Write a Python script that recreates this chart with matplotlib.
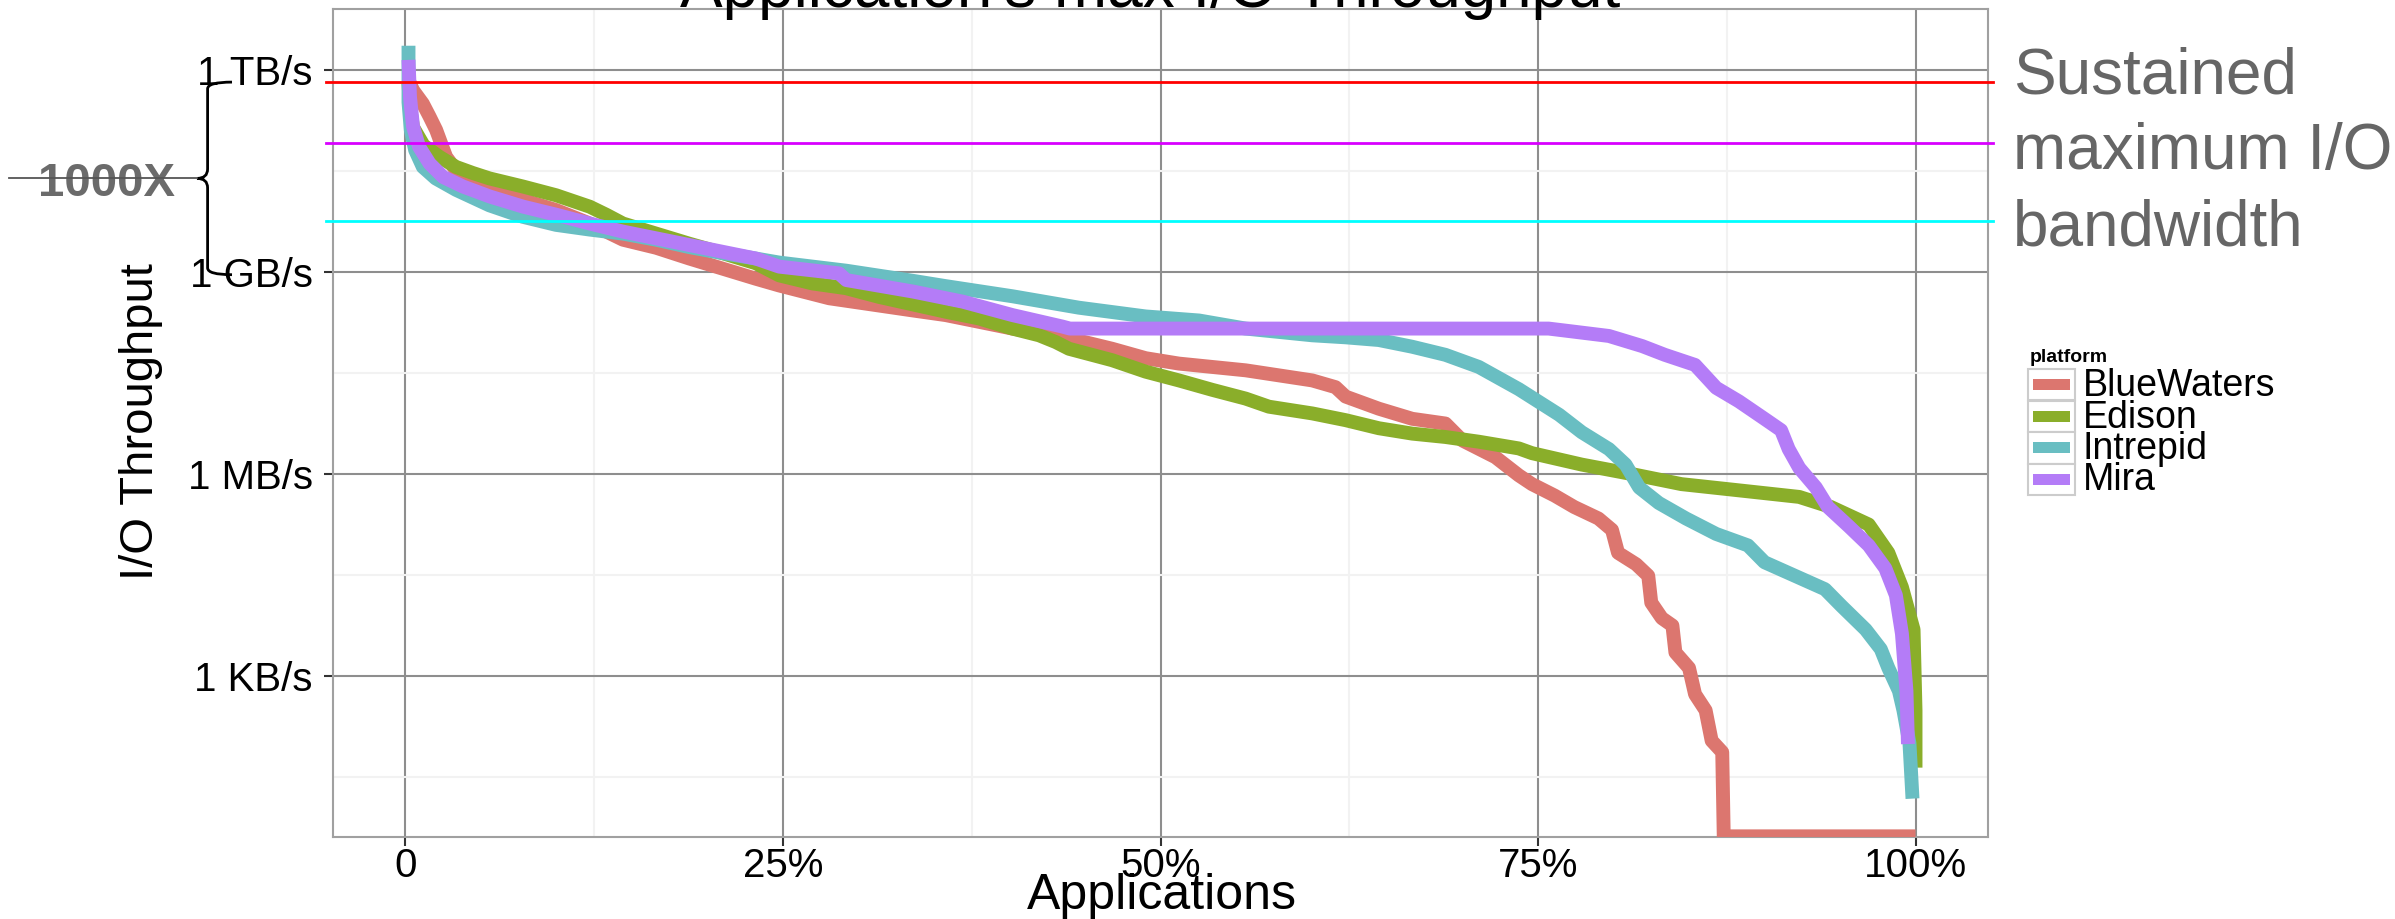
import numpy as np
import matplotlib
matplotlib.use("Agg")
import matplotlib.pyplot as plt
from matplotlib import transforms
from matplotlib.path import Path
from matplotlib.patches import PathPatch, Rectangle
from matplotlib.lines import Line2D
from matplotlib.ticker import NullFormatter

plt.rcParams["font.family"] = ["Liberation Sans", "DejaVu Sans"]

# ---- data: fraction of applications vs log10(max I/O throughput in B/s) ----
platforms = ["BlueWaters", "Edison", "Intrepid", "Mira"]
colors = ["#DC766F", "#8AAE2A", "#69BEC2", "#B47CF7"]

bluewaters_x = [0.002, 0.005, 0.0115, 0.0159, 0.0203, 0.0236, 0.0269, 0.0335, 0.0446, 0.0777,
                0.0997, 0.122, 0.144, 0.166, 0.188, 0.210, 0.232, 0.2475, 0.2806, 0.3357,
                0.3578, 0.4019, 0.435, 0.468, 0.4902, 0.5122, 0.5564, 0.6005, 0.6159, 0.6226,
                0.6446, 0.6667, 0.6887, 0.6998, 0.7218, 0.7373, 0.746, 0.761, 0.774, 0.790,
                0.799, 0.803, 0.815, 0.823, 0.825, 0.832, 0.839, 0.841, 0.850, 0.854,
                0.861, 0.865, 0.872, 0.873, 1.0]
bluewaters_log = [11.85, 11.70, 11.50, 11.31, 11.11, 10.91, 10.71, 10.51, 10.37, 10.07,
                  9.92, 9.72, 9.48, 9.36, 9.20, 9.05, 8.90, 8.80, 8.61, 8.43,
                  8.36, 8.16, 8.04, 7.86, 7.72, 7.64, 7.54, 7.39, 7.29, 7.15,
                  6.97, 6.82, 6.75, 6.50, 6.25, 5.98, 5.85, 5.68, 5.51, 5.34,
                  5.17, 4.83, 4.66, 4.49, 4.09, 3.86, 3.75, 3.35, 3.12, 2.73,
                  2.49, 2.04, 1.87, 0.62, 0.62]

edison_x = [0.002, 0.003, 0.005, 0.012, 0.0225, 0.0335, 0.0446, 0.0556, 0.0777, 0.0997,
            0.122, 0.133, 0.144, 0.166, 0.188, 0.210, 0.232, 0.2475, 0.2696, 0.2917,
            0.3137, 0.3578, 0.3799, 0.4019, 0.4196, 0.4306, 0.4394, 0.468, 0.4902, 0.5122,
            0.5343, 0.5564, 0.5718, 0.6005, 0.6226, 0.6446, 0.6667, 0.6887, 0.7108, 0.7373,
            0.746, 0.779, 0.812, 0.845, 0.878, 0.923, 0.944, 0.969, 0.982, 0.991,
            0.9987, 1.0, 1.0]
edison_log = [11.80, 11.45, 11.15, 10.88, 10.71, 10.56, 10.47, 10.39, 10.27, 10.14,
              9.97, 9.85, 9.72, 9.57, 9.42, 9.28, 9.13, 8.95, 8.83, 8.76,
              8.63, 8.41, 8.31, 8.16, 8.06, 7.96, 7.86, 7.69, 7.52, 7.39,
              7.25, 7.12, 7.00, 6.90, 6.80, 6.68, 6.60, 6.55, 6.48, 6.38,
              6.31, 6.14, 6.00, 5.85, 5.77, 5.66, 5.51, 5.25, 4.83, 4.32,
              3.69, 2.49, 1.64]

intrepid_x = [0.002, 0.002, 0.0035, 0.0064, 0.0115, 0.020, 0.0335, 0.0556, 0.0777, 0.0997,
              0.122, 0.144, 0.166, 0.188, 0.210, 0.232, 0.2475, 0.2917, 0.3357, 0.3578,
              0.4019, 0.446, 0.4902, 0.5255, 0.5564, 0.6005, 0.6226, 0.6446, 0.6667, 0.6887,
              0.7108, 0.7373, 0.764, 0.779, 0.797, 0.808, 0.817, 0.830, 0.848, 0.868,
              0.889, 0.900, 0.923, 0.940, 0.951, 0.967, 0.977, 0.982, 0.989, 0.992,
              0.996, 0.998]
intrepid_log = [12.36, 11.52, 11.11, 10.81, 10.56, 10.39, 10.22, 9.99, 9.82, 9.70,
                9.63, 9.57, 9.48, 9.37, 9.28, 9.20, 9.14, 9.02, 8.87, 8.79,
                8.64, 8.47, 8.34, 8.28, 8.16, 8.06, 8.03, 7.99, 7.89, 7.77,
                7.59, 7.26, 6.88, 6.62, 6.37, 6.14, 5.80, 5.57, 5.34, 5.11,
                4.94, 4.69, 4.46, 4.29, 4.04, 3.69, 3.40, 3.12, 2.78, 2.49,
                2.00, 1.18]

mira_x = [0.002, 0.003, 0.005, 0.009, 0.016, 0.025, 0.038, 0.056, 0.078, 0.100,
          0.122, 0.144, 0.166, 0.188, 0.210, 0.232, 0.2475, 0.287, 0.292, 0.336,
          0.369, 0.402, 0.435, 0.440, 0.757, 0.768, 0.797, 0.819, 0.834, 0.854,
          0.861, 0.868, 0.883, 0.900, 0.911, 0.916, 0.923, 0.934, 0.942, 0.956,
          0.969, 0.980, 0.987, 0.991, 0.994, 0.995]
mira_log = [12.15, 11.60, 11.16, 10.86, 10.61, 10.41, 10.27, 10.12, 9.97, 9.85,
            9.72, 9.60, 9.50, 9.40, 9.30, 9.20, 9.08, 8.98, 8.88, 8.71,
            8.56, 8.36, 8.19, 8.16, 8.16, 8.13, 8.05, 7.90, 7.77, 7.62,
            7.45, 7.28, 7.08, 6.82, 6.65, 6.37, 6.09, 5.80, 5.51, 5.22,
            4.94, 4.60, 4.20, 3.63, 2.78, 1.99]

series_x = [bluewaters_x, edison_x, intrepid_x, mira_x]
series_log = [bluewaters_log, edison_log, intrepid_log, mira_log]

# sustained maximum I/O bandwidth of the machines (log10 B/s)
sustained_log = [11.82, 10.92, 9.76]
sustained_colors = ["#FF0000", "#D800FF", "#00FFFF"]

x_ticks = [0, 0.25, 0.5, 0.75, 1.0]
x_ticklabels = ["0", "25%", "50%", "75%", "100%"]
y_ticks_log = [3, 6, 9, 12]
y_ticklabels = ["1 KB/s", "1 MB/s", "1 GB/s", "1 TB/s"]

# ---- figure ----
W, H = 2395, 919
fig = plt.figure(figsize=(W / 100, H / 100), dpi=100)
ax = fig.add_axes([333 / W, 1 - 837 / H, (1988 - 333) / W, (837 - 8.7) / H])


def fx(px):
    return px / W


def fy(py):
    return 1 - py / H


ax.set_yscale("log")
ax.set_xlim(-0.048, 1.048)
ax.set_ylim(10 ** 0.61, 10 ** 12.91)

ax.set_xticks(x_ticks)
ax.set_xticklabels(x_ticklabels)
ax.set_xticks([0.125, 0.375, 0.625, 0.875], minor=True)
ax.set_yticks([10.0 ** v for v in y_ticks_log])
ax.set_yticklabels(y_ticklabels)
ax.set_yticks([10 ** 1.5, 10 ** 4.5, 10 ** 7.5, 10 ** 10.5], minor=True)
ax.yaxis.set_minor_formatter(NullFormatter())

ax.grid(which="major", color="#8E8E8E", lw=1.5)
ax.grid(which="minor", color="#F2F2F2", lw=1.5)
ax.set_axisbelow(True)
for sp in ax.spines.values():
    sp.set_color("#A0A0A0")
    sp.set_linewidth(1.5)

ax.tick_params(which="major", length=6.5, width=1.5, color="#333333", labelsize=29)
ax.tick_params(which="minor", length=0)
ax.tick_params(axis="y", pad=8)
ax.tick_params(axis="x", pad=1)

for xs, logs, c in zip(series_x, series_log, colors):
    ax.plot(xs, 10 ** np.array(logs), color=c, lw=10, solid_capstyle="butt", zorder=3)

for v, c in zip(sustained_log, sustained_colors):
    ax.axhline(10 ** v, xmin=-0.004, xmax=1.003, color=c, lw=2, clip_on=False, zorder=5)

# titles
fig.text(fx(1150), fy(7), "Application's max I/O Throughput", ha="center", va="baseline",
         fontsize=46)
fig.text(fx(1162), fy(909), "Applications", ha="center", va="baseline", fontsize=36)
fig.text(fx(153), fy(422), "I/O Throughput", rotation=90, rotation_mode="anchor",
         ha="center", va="baseline", fontsize=34)

# right-hand annotation
for i, line in enumerate(["Sustained", "maximum I/O", "bandwidth"]):
    fig.text(fx(2013), fy(94 + i * 75.5), line, ha="left", va="baseline",
             fontsize=46, color="#666666")

# 1000X brace
brace_top = sustained_log[0]
brace_bot = 8.96
brace_mid = (brace_top + brace_bot) / 2
xs_px = 207.6
verts = [(fx(232), 10 ** brace_top),
         (fx(xs_px), 10 ** brace_top), (fx(xs_px), 10 ** (brace_top - 0.1)),
         (fx(xs_px), 10 ** (brace_mid + 0.14)),
         (fx(xs_px), 10 ** brace_mid), (fx(197), 10 ** brace_mid),
         (fx(xs_px), 10 ** brace_mid), (fx(xs_px), 10 ** (brace_mid - 0.14)),
         (fx(xs_px), 10 ** (brace_bot + 0.1)),
         (fx(xs_px), 10 ** brace_bot), (fx(232), 10 ** brace_bot)]
codes = [Path.MOVETO, Path.CURVE3, Path.CURVE3, Path.LINETO, Path.CURVE3, Path.CURVE3,
         Path.CURVE3, Path.CURVE3, Path.LINETO, Path.CURVE3, Path.CURVE3]
trans = transforms.blended_transform_factory(fig.transFigure, ax.transData)
fig.add_artist(PathPatch(Path(verts, codes), transform=trans, fill=False,
                         edgecolor="black", lw=2, clip_on=False))

fig.text(fx(107), fy(196), "1000X", ha="center", va="baseline", fontsize=34,
         weight="bold", color="#6B6B6B")
mid_y = trans.transform((0, 10 ** brace_mid))[1] / H
fig.add_artist(Line2D([fx(9), fx(197)], [mid_y, mid_y], color="#555555", lw=1.3, zorder=4))

# legend
fig.text(fx(2030), fy(362), "platform", weight="bold", fontsize=14, va="baseline")
row_h = 31.5
for i, (name, c) in enumerate(zip(platforms, colors)):
    y0 = 369 + i * row_h
    fig.add_artist(Rectangle((fx(2028), fy(y0 + row_h)), 47 / W, row_h / H,
                             transform=fig.transFigure, facecolor="white",
                             edgecolor="#CCCCCC", lw=1.5))
    fig.add_artist(Rectangle((fx(2033), fy(y0 + row_h / 2 + 5.5)), 37 / W, 11 / H,
                             transform=fig.transFigure, facecolor=c, edgecolor="none"))
    fig.text(fx(2083), fy(y0 + 27), name, fontsize=27, va="baseline")

fig.savefig("out.png", dpi=100)
